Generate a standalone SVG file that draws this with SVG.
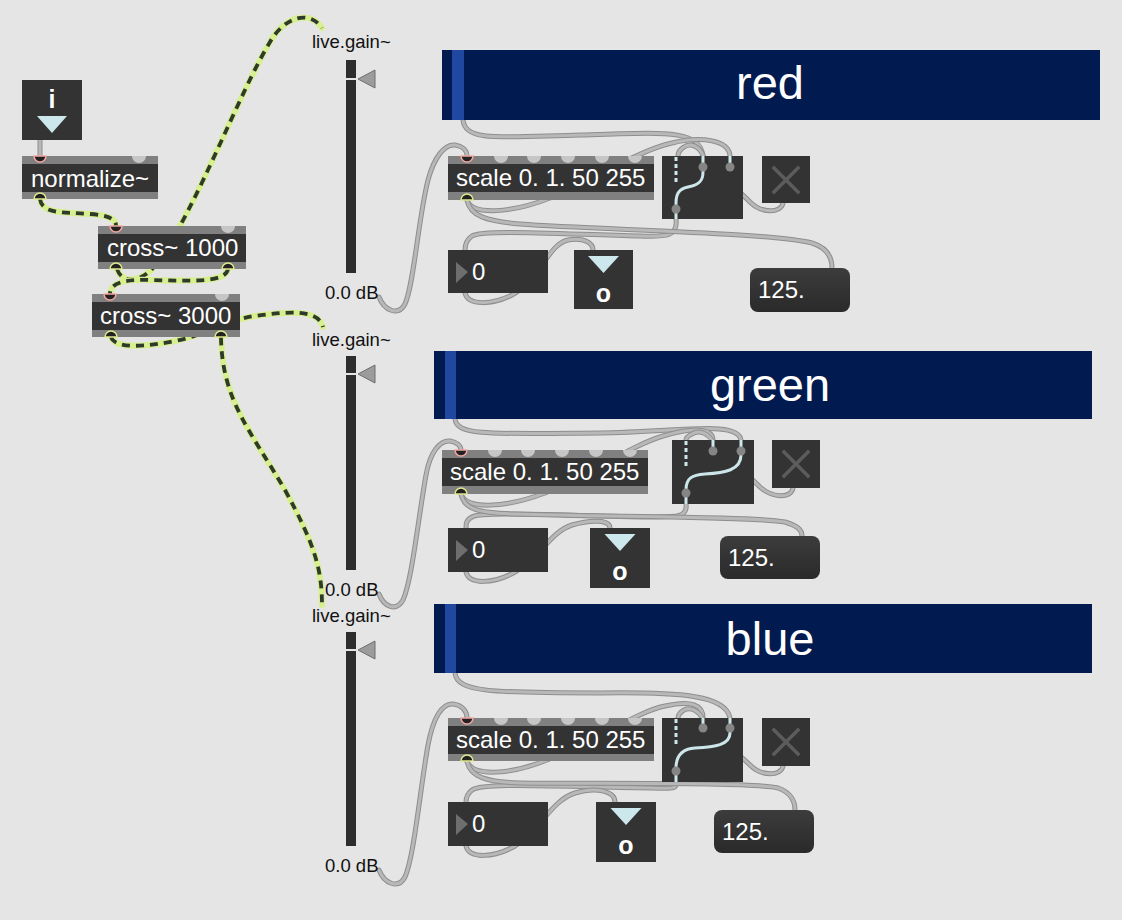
<svg xmlns="http://www.w3.org/2000/svg" width="1122" height="920" viewBox="0 0 1122 920">
<defs>
<style>
.bg{fill:#e5e5e5}
.body{fill:#333333}
.bar{fill:#808080}
.t{font-family:"Liberation Sans",Arial,sans-serif;fill:#ffffff;font-size:24px}
.lbl{font-family:"Liberation Sans",Arial,sans-serif;fill:#111111;font-size:18.5px}
.pt{font-family:"Liberation Sans",Arial,sans-serif;fill:#ffffff;font-size:47px;text-anchor:middle}
.in{fill:#c6c6c6}
.inh{fill:#222222;stroke:#f2a5a0;stroke-width:1.5}
.out{fill:#222222;stroke:#dfe88c;stroke-width:1.5}
.sa{fill:none;stroke:#d8ef90;stroke-width:6;stroke-linecap:round}
.sb{fill:none;stroke:#2e3a2a;stroke-width:3.8;stroke-dasharray:8 6}
.ca{fill:none;stroke:#8e8e8e;stroke-width:5;stroke-linecap:round}
.cb{fill:none;stroke:#b8b8b8;stroke-width:3;stroke-linecap:round}
.panel{fill:#011a4f}
.strip{fill:#2148a0}
.sw{fill:none;stroke:#cde6ea;stroke-width:3}
.swd{fill:none;stroke:#cde6ea;stroke-width:3;stroke-dasharray:4 3}
.dot{fill:#858585}
.slider{fill:#2d2d2d}
.gap{fill:#e5e5e5}
.knob{fill:#9c9c9c;stroke:#6f6f6f;stroke-width:1}
.xm{stroke:#5c5c5c;stroke-width:3.5;stroke-linecap:square}
.tri{fill:#cde8ec}
.ntri{fill:#6e6e6e}
.flo{fill:url(#flg)}
.bo{font-family:"Liberation Sans",Arial,sans-serif;fill:#ffffff;font-size:25px;font-weight:bold;text-anchor:middle}
</style>
<linearGradient id="flg" x1="0" y1="0" x2="0" y2="1">
<stop offset="0" stop-color="#3c3c3c"/>
<stop offset="1" stop-color="#2a2a2a"/>
</linearGradient>
<path id="s1" d="M40,199 C42,214 62,212 90,214 C106,215 116,218 116,226"/>
<path id="s2" d="M117,269 C122,284 142,284 158,262 C198,205 238,95 270,42 C285,16 310,10 322,28"/>
<path id="s3" d="M228,269 C226,283 190,281 150,280 C124,279 110,283 110,294"/>
<path id="s4" d="M111,337 C115,349 145,347 175,341 C210,334 225,320 255,316 C285,312 318,308 323,327"/>
<path id="s5" d="M221,337 C222,400 250,430 285,490 C315,545 322,570 322,605"/>
<path id="c0" d="M40,140 L40,156"/>
<path id="r1" d="M463,120 C465,142 500,137 580,135 C660,133 700,128 703,156"/>
<path id="r2" d="M467,200 C472,216 512,213 550,198 C600,176 640,150 672,143 C702,136 729,140 730,156"/>
<path id="r3" d="M676,219 C678,236 668,237 640,236 C560,234 482,229 472,236 C466,240 465,245 465,250"/>
<path id="r4" d="M467,200 C470,216 486,221 520,224 C600,230 765,232 812,243 C828,248 832,258 832,268"/>
<path id="r5" d="M465,293 C468,306 492,305 512,295 C540,280 548,244 568,240 C584,237 593,243 593,250"/>
<path id="r6" d="M783,203 C781,213 762,214 750,202 C735,186 712,172 704,158 C700,145 690,143 684,147 C679,150 678,153 678,156"/>
<path id="g1" d="M455,419 C457,436 490,434 600,433 C680,432 738,420 741,440"/>
<path id="g2" d="M461,494 C466,510 505,508 545,493 C595,472 630,446 663,436 C693,427 713,428 713,440"/>
<path id="g3" d="M686,504 C688,518 675,517 650,517 C570,516 482,511 472,517 C466,520 466,524 466,528"/>
<path id="g4" d="M461,494 C464,510 480,513 515,514 C600,517 750,516 785,522 C798,526 802,530 802,536"/>
<path id="g5" d="M466,572 C469,585 494,584 515,572 C540,558 550,532 572,525 C592,519 610,520 610,528"/>
<path id="g6" d="M793,488 C791,499 772,498 760,487 C745,472 722,455 714,444 C709,432 698,430 692,434 C688,436 686,438 686,440"/>
<path id="b1" d="M455,673 C457,692 490,693 600,693 C680,692 726,695 730,718"/>
<path id="b2" d="M467,761 C472,777 510,775 547,760 C600,740 635,712 665,706 C692,700 703,705 703,718"/>
<path id="b3" d="M676,782 C677,790 672,788 650,788 C560,787 484,782 472,790 C467,794 466,798 466,802"/>
<path id="b4" d="M467,761 C470,777 486,782 520,783 C600,784 750,782 778,788 C792,793 795,802 795,810"/>
<path id="b5" d="M466,846 C469,859 494,858 515,846 C540,830 552,800 575,793 C598,786 615,792 615,802"/>
<path id="b6" d="M783,766 C781,776 762,777 750,765 C735,750 712,735 704,722 C700,710 690,707 684,710 C679,713 678,715 678,718"/>
<path id="l1" d="M379,297 C384,310 398,317 405,304 C414,284 418,220 428,180 C434,158 444,144 455,145 C462,146 467,150 467,156"/>
<path id="l2" d="M379,594 C384,607 396,612 403,600 C412,580 418,520 426,475 C430,452 440,440 450,441 C457,442 461,446 461,450"/>
<path id="l3" d="M379,870 C384,883 398,890 405,877 C414,857 420,790 428,745 C433,718 442,703 453,704 C462,705 467,711 467,718"/>
</defs>
<rect class="bg" x="0" y="0" width="1122" height="920"/>

<g id="connectors">
<use href="#s1" class="sa"/><use href="#s1" class="sb"/>
<use href="#s2" class="sa"/><use href="#s2" class="sb"/>
<use href="#s3" class="sa"/><use href="#s3" class="sb"/>
<use href="#s4" class="sa"/><use href="#s4" class="sb"/>
<use href="#s5" class="sa"/><use href="#s5" class="sb"/>
<use href="#c0" class="ca"/><use href="#c0" class="cb"/>
<use href="#r1" class="ca"/><use href="#r1" class="cb"/>
<use href="#r2" class="ca"/><use href="#r2" class="cb"/>
<use href="#r3" class="ca"/><use href="#r3" class="cb"/>
<use href="#r4" class="ca"/><use href="#r4" class="cb"/>
<use href="#r5" class="ca"/><use href="#r5" class="cb"/>
<use href="#r6" class="ca"/><use href="#r6" class="cb"/>
<use href="#g1" class="ca"/><use href="#g1" class="cb"/>
<use href="#g2" class="ca"/><use href="#g2" class="cb"/>
<use href="#g3" class="ca"/><use href="#g3" class="cb"/>
<use href="#g4" class="ca"/><use href="#g4" class="cb"/>
<use href="#g5" class="ca"/><use href="#g5" class="cb"/>
<use href="#g6" class="ca"/><use href="#g6" class="cb"/>
<use href="#b1" class="ca"/><use href="#b1" class="cb"/>
<use href="#b2" class="ca"/><use href="#b2" class="cb"/>
<use href="#b3" class="ca"/><use href="#b3" class="cb"/>
<use href="#b4" class="ca"/><use href="#b4" class="cb"/>
<use href="#b5" class="ca"/><use href="#b5" class="cb"/>
<use href="#b6" class="ca"/><use href="#b6" class="cb"/>
<use href="#l1" class="ca"/><use href="#l1" class="cb"/>
<use href="#l2" class="ca"/><use href="#l2" class="cb"/>
<use href="#l3" class="ca"/><use href="#l3" class="cb"/>
</g>

<g id="inlet-button">
<rect class="body" x="22" y="80" width="60" height="60"/>
<text class="bo" x="52" y="108">i</text>
<polygon class="tri" points="37,116 67,116 52,133"/>
</g>

<g id="normalize">
<rect class="bar" x="22" y="156" width="136" height="43"/>
<rect class="body" x="22" y="164" width="136" height="28"/>
<path class="inh" d="M34,156 A6,6 0 0 0 46,156 Z"/>
<path class="in" d="M132,156 A7,7 0 0 0 146,156 Z"/>
<path class="out" d="M34,199 A6,6 0 0 1 46,199 Z"/>
<text class="t" x="31" y="187">normalize~</text>
</g>

<g id="cross1000">
<rect class="bar" x="98" y="226" width="148" height="43"/>
<rect class="body" x="98" y="234" width="148" height="28"/>
<path class="inh" d="M110,226 A6,6 0 0 0 122,226 Z"/>
<path class="in" d="M221,226 A7,7 0 0 0 235,226 Z"/>
<path class="out" d="M110,269 A6,6 0 0 1 122,269 Z"/>
<path class="out" d="M222,269 A6,6 0 0 1 234,269 Z"/>
<text class="t" x="107" y="256">cross~ 1000</text>
</g>

<g id="cross3000">
<rect class="bar" x="92" y="294" width="148" height="43"/>
<rect class="body" x="92" y="302" width="148" height="28"/>
<path class="inh" d="M104,294 A6,6 0 0 0 116,294 Z"/>
<path class="in" d="M215,294 A7,7 0 0 0 229,294 Z"/>
<path class="out" d="M105,337 A6,6 0 0 1 117,337 Z"/>
<path class="out" d="M215,337 A6,6 0 0 1 227,337 Z"/>
<text class="t" x="100" y="324">cross~ 3000</text>
</g>

<g id="livegain1">
<text class="lbl" x="312" y="48">live.gain~</text>
<rect class="slider" x="346" y="60" width="10" height="213"/>
<rect class="gap" x="346" y="78" width="10" height="2"/>
<polygon class="knob" points="358,79 375,70 375,88"/>
<text class="lbl" x="325" y="299">0.0 dB</text>
</g>

<g id="livegain2">
<text class="lbl" x="312" y="346">live.gain~</text>
<rect class="slider" x="346" y="356" width="10" height="214"/>
<rect class="gap" x="346" y="373" width="10" height="2"/>
<polygon class="knob" points="358,374 375,365 375,383"/>
<text class="lbl" x="325" y="596">0.0 dB</text>
</g>

<g id="livegain3">
<text class="lbl" x="312" y="622">live.gain~</text>
<rect class="slider" x="346" y="632" width="10" height="214"/>
<rect class="gap" x="346" y="649" width="10" height="2"/>
<polygon class="knob" points="358,650 375,641 375,659"/>
<text class="lbl" x="325" y="872">0.0 dB</text>
</g>

<g id="panel-red">
<rect class="panel" x="442" y="50" width="658" height="70"/>
<rect class="strip" x="452" y="50" width="12" height="70"/>
<text class="pt" x="770" y="99">red</text>
</g>
<g id="scale-red">
<rect class="bar" x="448" y="156" width="206" height="44"/>
<rect class="body" x="448" y="164" width="206" height="28"/>
<path class="inh" d="M461,156 A6,6 0 0 0 473,156 Z"/>
<path class="in" d="M494,156 A7,7 0 0 0 508,156 Z"/>
<path class="in" d="M527,156 A7,7 0 0 0 541,156 Z"/>
<path class="in" d="M561,156 A7,7 0 0 0 575,156 Z"/>
<path class="in" d="M595,156 A7,7 0 0 0 609,156 Z"/>
<path class="in" d="M628,156 A7,7 0 0 0 642,156 Z"/>
<path class="out" d="M461,200 A6,6 0 0 1 473,200 Z"/>
<text class="t" x="456" y="186">scale 0. 1. 50 255</text>
</g>
<g id="gswitch-red">
<rect class="body" x="662" y="156" width="81" height="63"/>
<line class="swd" x1="676" y1="157" x2="676" y2="184"/>
<path class="sw" d="M676,219 V203 C676,190 682,188 692,186 C700,184 703,180 703,172 V156"/>
<line class="sw" x1="730" y1="156" x2="730" y2="167"/>
<circle class="dot" cx="703" cy="167" r="4.5"/>
<circle class="dot" cx="730" cy="167" r="4.5"/>
<circle class="dot" cx="676" cy="209" r="4.5"/>
</g>
<g id="toggle-red">
<rect class="body" x="762" y="156" width="48" height="47"/>
<line class="xm" x1="774" y1="168" x2="798" y2="192"/>
<line class="xm" x1="798" y1="168" x2="774" y2="192"/>
</g>
<g id="number-red">
<rect class="body" x="448" y="250" width="100" height="43"/>
<polygon class="ntri" points="456,262 468,272 456,283"/>
<text class="t" x="472" y="280">0</text>
</g>
<g id="button-red">
<rect class="body" x="574" y="250" width="59" height="59"/>
<polygon class="tri" points="588,256 619,256 603.5,273"/>
<text class="bo" x="603.5" y="302">o</text>
</g>
<g id="flonum-red">
<rect class="flo" x="750" y="268" width="100" height="44" rx="8"/>
<text class="t" x="758" y="298">125.</text>
</g>

<g id="panel-green">
<rect class="panel" x="434" y="351" width="658" height="68"/>
<rect class="strip" x="445" y="351" width="11" height="68"/>
<text class="pt" x="770" y="401">green</text>
</g>
<g id="scale-green">
<rect class="bar" x="442" y="450" width="206" height="44"/>
<rect class="body" x="442" y="458" width="206" height="28"/>
<path class="inh" d="M455,450 A6,6 0 0 0 467,450 Z"/>
<path class="in" d="M488,450 A7,7 0 0 0 502,450 Z"/>
<path class="in" d="M521,450 A7,7 0 0 0 535,450 Z"/>
<path class="in" d="M555,450 A7,7 0 0 0 569,450 Z"/>
<path class="in" d="M589,450 A7,7 0 0 0 603,450 Z"/>
<path class="in" d="M623,450 A7,7 0 0 0 637,450 Z"/>
<path class="out" d="M455,494 A6,6 0 0 1 467,494 Z"/>
<text class="t" x="450" y="480">scale 0. 1. 50 255</text>
</g>
<g id="gswitch-green">
<rect class="body" x="672" y="440" width="82" height="64"/>
<line class="swd" x1="686" y1="441" x2="686" y2="469"/>
<path class="sw" d="M686,504 V490 C686,478 692,475 705,474 C725,473 741,470 741,455 V440"/>
<line class="sw" x1="713" y1="440" x2="713" y2="451"/>
<circle class="dot" cx="713" cy="451" r="4.5"/>
<circle class="dot" cx="741" cy="451" r="4.5"/>
<circle class="dot" cx="686" cy="493" r="4.5"/>
</g>
<g id="toggle-green">
<rect class="body" x="772" y="440" width="48" height="48"/>
<line class="xm" x1="784" y1="452" x2="808" y2="476"/>
<line class="xm" x1="808" y1="452" x2="784" y2="476"/>
</g>
<g id="number-green">
<rect class="body" x="448" y="528" width="100" height="44"/>
<polygon class="ntri" points="456,540 468,550 456,561"/>
<text class="t" x="472" y="558">0</text>
</g>
<g id="button-green">
<rect class="body" x="590" y="528" width="60" height="60"/>
<polygon class="tri" points="604.5,534 635.5,534 620,551"/>
<text class="bo" x="620" y="580">o</text>
</g>
<g id="flonum-green">
<rect class="flo" x="720" y="536" width="100" height="43" rx="8"/>
<text class="t" x="728" y="566">125.</text>
</g>

<g id="panel-blue">
<rect class="panel" x="434" y="604" width="658" height="69"/>
<rect class="strip" x="445" y="604" width="11" height="69"/>
<text class="pt" x="770" y="655">blue</text>
</g>
<g id="scale-blue">
<rect class="bar" x="448" y="718" width="206" height="43"/>
<rect class="body" x="448" y="726" width="206" height="28"/>
<path class="inh" d="M461,718 A6,6 0 0 0 473,718 Z"/>
<path class="in" d="M494,718 A7,7 0 0 0 508,718 Z"/>
<path class="in" d="M527,718 A7,7 0 0 0 541,718 Z"/>
<path class="in" d="M561,718 A7,7 0 0 0 575,718 Z"/>
<path class="in" d="M595,718 A7,7 0 0 0 609,718 Z"/>
<path class="in" d="M628,718 A7,7 0 0 0 642,718 Z"/>
<path class="out" d="M461,761 A6,6 0 0 1 473,761 Z"/>
<text class="t" x="456" y="748">scale 0. 1. 50 255</text>
</g>
<g id="gswitch-blue">
<rect class="body" x="662" y="718" width="81" height="64"/>
<line class="swd" x1="676" y1="719" x2="676" y2="747"/>
<path class="sw" d="M676,782 V768 C676,756 682,749 695,748 C715,747 730,745 730,733 V718"/>
<line class="sw" x1="703" y1="718" x2="703" y2="728"/>
<circle class="dot" cx="703" cy="728" r="4.5"/>
<circle class="dot" cx="730" cy="728" r="4.5"/>
<circle class="dot" cx="676" cy="771" r="4.5"/>
</g>
<g id="toggle-blue">
<rect class="body" x="762" y="718" width="48" height="48"/>
<line class="xm" x1="774" y1="730" x2="798" y2="754"/>
<line class="xm" x1="798" y1="730" x2="774" y2="754"/>
</g>
<g id="number-blue">
<rect class="body" x="448" y="802" width="100" height="44"/>
<polygon class="ntri" points="456,814 468,824 456,835"/>
<text class="t" x="472" y="832">0</text>
</g>
<g id="button-blue">
<rect class="body" x="596" y="802" width="60" height="60"/>
<polygon class="tri" points="610.5,808 641.5,808 626,825"/>
<text class="bo" x="626" y="854">o</text>
</g>
<g id="flonum-blue">
<rect class="flo" x="714" y="810" width="100" height="43" rx="8"/>
<text class="t" x="722" y="840">125.</text>
</g>
</svg>
